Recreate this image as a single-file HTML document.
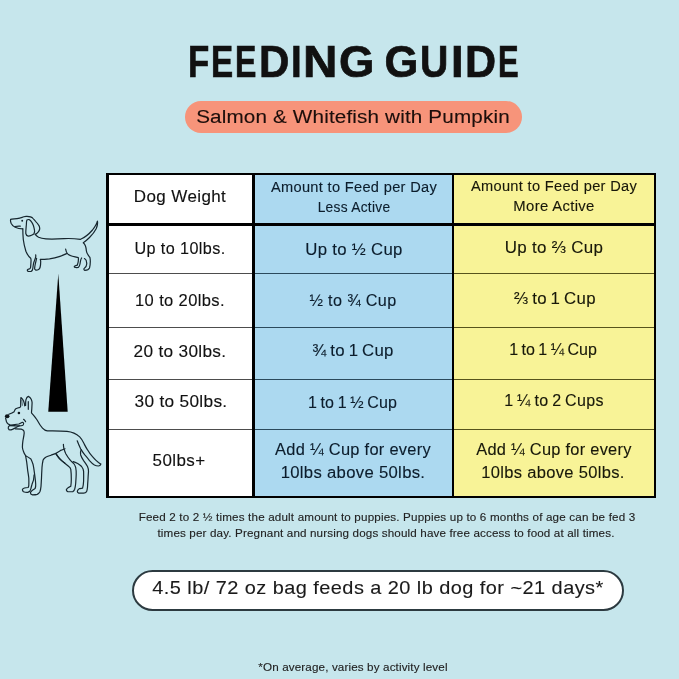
<!DOCTYPE html>
<html>
<head>
<meta charset="utf-8">
<style>
html,body{margin:0;padding:0;}
body{width:679px;height:679px;overflow:hidden;background:#c6e6ec;position:relative;font-family:"Liberation Sans",sans-serif;}
.t{position:absolute;text-align:center;white-space:nowrap;-webkit-text-stroke:0.12px currentColor;}
.r{position:absolute;}
svg{position:absolute;left:0;top:0;}
#title span{position:absolute;top:36.5px;font-size:43.5px;font-weight:700;line-height:50px;color:#111;-webkit-text-stroke:0.7px #111;transform-origin:0 0;white-space:pre;}
</style>
</head>
<body>
<div class="r" style="left:184.5px;top:100.5px;width:337.20px;height:32.00px;background:#f7947a;border-radius:16px;"></div>
<div class="r" style="left:106px;top:173px;width:550.00px;height:325.00px;background:#000;"></div>
<div class="r" style="left:108.5px;top:175px;width:143.50px;height:321.00px;background:#ffffff;"></div>
<div class="r" style="left:108.5px;top:223px;width:143.50px;height:2.50px;background:#000;"></div>
<div class="r" style="left:108.5px;top:273px;width:143.50px;height:1.20px;background:#4d4d4d;"></div>
<div class="r" style="left:108.5px;top:326.8px;width:143.50px;height:1.20px;background:#4d4d4d;"></div>
<div class="r" style="left:108.5px;top:378.7px;width:143.50px;height:1.20px;background:#4d4d4d;"></div>
<div class="r" style="left:108.5px;top:428.7px;width:143.50px;height:1.20px;background:#4d4d4d;"></div>
<div class="r" style="left:254.5px;top:175px;width:197.00px;height:321.00px;background:#acd9f0;"></div>
<div class="r" style="left:254.5px;top:223px;width:197.00px;height:2.50px;background:#000;"></div>
<div class="r" style="left:254.5px;top:273px;width:197.00px;height:1.20px;background:#2b4a5c;"></div>
<div class="r" style="left:254.5px;top:326.8px;width:197.00px;height:1.20px;background:#2b4a5c;"></div>
<div class="r" style="left:254.5px;top:378.7px;width:197.00px;height:1.20px;background:#2b4a5c;"></div>
<div class="r" style="left:254.5px;top:428.7px;width:197.00px;height:1.20px;background:#2b4a5c;"></div>
<div class="r" style="left:454px;top:175px;width:200.00px;height:321.00px;background:#f8f397;"></div>
<div class="r" style="left:454px;top:223px;width:200.00px;height:2.50px;background:#000;"></div>
<div class="r" style="left:454px;top:273px;width:200.00px;height:1.20px;background:#57531c;"></div>
<div class="r" style="left:454px;top:326.8px;width:200.00px;height:1.20px;background:#57531c;"></div>
<div class="r" style="left:454px;top:378.7px;width:200.00px;height:1.20px;background:#57531c;"></div>
<div class="r" style="left:454px;top:428.7px;width:200.00px;height:1.20px;background:#57531c;"></div>
<div class="r" style="left:131.8px;top:570px;width:492.40px;height:40.50px;background:#fff;border:2.4px solid #2c3a40;border-radius:21px;box-sizing:border-box;"></div>
<div id="title"><span style="left:187.80px;transform:scaleX(0.8)">F</span><span style="left:210.71px;transform:scaleX(0.764)">E</span><span style="left:235.09px;transform:scaleX(0.736)">E</span><span style="left:258.60px;transform:scaleX(0.967)">D</span><span style="left:290.64px;transform:scaleX(0.886)">I</span><span style="left:302.71px;transform:scaleX(1.096)">N</span><span style="left:338.75px;transform:scaleX(1.045)">G</span><span style="left:376px"> </span><span style="left:384.50px;transform:scaleX(1.0)">G</span><span style="left:420.30px;transform:scaleX(0.9)">U</span><span style="left:450.57px;transform:scaleX(1.043)">I</span><span style="left:464.53px;transform:scaleX(0.989)">D</span><span style="left:497.76px;transform:scaleX(0.712)">E</span></div>
<div class="t" style="left:153.09px;top:107.49px;width:400px;font-size:18.8px;line-height:20px;color:#1c0e0b;letter-spacing:0.140px;font-weight:400;transform:scaleX(1.100);">Salmon &amp; Whitefish with Pumpkin</div>
<div class="t" style="left:109.75px;top:187.48px;width:140px;font-size:16px;line-height:20px;color:#111;letter-spacing:0.369px;font-weight:400;transform:scaleX(1.062);">Dog Weight</div>
<div class="t" style="left:256.15px;top:177.09px;width:196px;font-size:14px;line-height:20px;color:#0c1d2c;letter-spacing:0.307px;font-weight:400;transform:scaleX(1.043);">Amount to Feed per Day</div>
<div class="t" style="left:255.62px;top:197.12px;width:196px;font-size:14px;line-height:20px;color:#0c1d2c;letter-spacing:0.299px;font-weight:400;transform:scaleX(0.981);">Less Active</div>
<div class="t" style="left:455.15px;top:176.17px;width:198px;font-size:14px;line-height:20px;color:#18180a;letter-spacing:0.307px;font-weight:400;transform:scaleX(1.043);">Amount to Feed per Day</div>
<div class="t" style="left:454.59px;top:196.20px;width:198px;font-size:14px;line-height:20px;color:#18180a;letter-spacing:0.322px;font-weight:400;transform:scaleX(1.060);">More Active</div>
<div class="t" style="left:109.76px;top:239.42px;width:140px;font-size:16px;line-height:20px;color:#111;letter-spacing:0.384px;font-weight:400;transform:scaleX(1.012);">Up to 10lbs.</div>
<div class="t" style="left:110.24px;top:290.54px;width:140px;font-size:16px;line-height:20px;color:#111;letter-spacing:0.370px;font-weight:400;transform:scaleX(1.031);">10 to 20lbs.</div>
<div class="t" style="left:110.44px;top:341.53px;width:140px;font-size:16px;line-height:20px;color:#111;letter-spacing:0.289px;font-weight:400;transform:scaleX(1.076);">20 to 30lbs.</div>
<div class="t" style="left:110.66px;top:392.47px;width:140px;font-size:16px;line-height:20px;color:#111;letter-spacing:0.285px;font-weight:400;transform:scaleX(1.078);">30 to 50lbs.</div>
<div class="t" style="left:109.30px;top:451.48px;width:140px;font-size:16px;line-height:20px;color:#111;letter-spacing:0.380px;font-weight:400;transform:scaleX(1.060);">50lbs+</div>
<div class="t" style="left:255.55px;top:239.51px;width:196px;font-size:16px;line-height:20px;color:#0c1d2c;letter-spacing:0.303px;font-weight:400;transform:scaleX(1.047);">Up to ½ Cup</div>
<div class="t" style="left:255.23px;top:290.51px;width:196px;font-size:16px;line-height:20px;color:#0c1d2c;letter-spacing:0.342px;font-weight:400;transform:scaleX(1.011);">½ to ¾ Cup</div>
<div class="t" style="left:254.72px;top:341.48px;width:196px;font-size:16px;line-height:20px;color:#0c1d2c;letter-spacing:0.300px;font-weight:400;word-spacing:-1.2px;transform:scaleX(1.050);">¾ to 1 Cup</div>
<div class="t" style="left:254.56px;top:393.36px;width:196px;font-size:16px;line-height:20px;color:#0c1d2c;letter-spacing:0.198px;font-weight:400;word-spacing:-1.2px;">1 to 1 ½ Cup</div>
<div class="t" style="left:255.18px;top:440.36px;width:196px;font-size:16px;line-height:20px;color:#0c1d2c;letter-spacing:0.279px;font-weight:400;transform:scaleX(1.025);">Add ¼ Cup for every</div>
<div class="t" style="left:254.63px;top:462.54px;width:196px;font-size:16px;line-height:20px;color:#0c1d2c;letter-spacing:0.298px;font-weight:400;transform:scaleX(1.042);">10lbs above 50lbs.</div>
<div class="t" style="left:454.60px;top:238.48px;width:198px;font-size:16px;line-height:20px;color:#18180a;letter-spacing:0.313px;font-weight:400;transform:scaleX(1.058);">Up to ⅔ Cup</div>
<div class="t" style="left:455.57px;top:288.53px;width:198px;font-size:16px;line-height:20px;color:#18180a;letter-spacing:0.327px;font-weight:400;word-spacing:-1.2px;transform:scaleX(1.050);">⅔ to 1 Cup</div>
<div class="t" style="left:454.13px;top:339.53px;width:198px;font-size:16px;line-height:20px;color:#18180a;letter-spacing:0.089px;font-weight:400;word-spacing:-1.2px;">1 to 1 ¼ Cup</div>
<div class="t" style="left:455.08px;top:391.39px;width:198px;font-size:16px;line-height:20px;color:#18180a;letter-spacing:0.373px;font-weight:400;word-spacing:-1.2px;">1 ¼ to 2 Cups</div>
<div class="t" style="left:454.67px;top:440.36px;width:198px;font-size:16px;line-height:20px;color:#18180a;letter-spacing:0.271px;font-weight:400;transform:scaleX(1.023);">Add ¼ Cup for every</div>
<div class="t" style="left:453.68px;top:462.54px;width:198px;font-size:16px;line-height:20px;color:#18180a;letter-spacing:0.304px;font-weight:400;transform:scaleX(1.032);">10lbs above 50lbs.</div>
<div class="t" style="left:86.59px;top:507.25px;width:600px;font-size:11px;line-height:20px;color:#222;letter-spacing:0.150px;font-weight:400;transform:scaleX(1.060);">Feed 2 to 2 ½ times the adult amount to puppies. Puppies up to 6 months of age can be fed 3</div>
<div class="t" style="left:86.04px;top:523.13px;width:600px;font-size:11px;line-height:20px;color:#222;letter-spacing:0.125px;font-weight:400;transform:scaleX(1.060);">times per day. Pregnant and nursing dogs should have free access to food at all times.</div>
<div class="t" style="left:97.76px;top:578.44px;width:560px;font-size:19px;line-height:20px;color:#1a1a1a;letter-spacing:0.420px;font-weight:400;transform:scaleX(1.050);">4.5 lb/ 72 oz bag feeds a 20 lb dog for ~21 days*</div>
<div class="t" style="left:203.06px;top:657.30px;width:300px;font-size:11px;line-height:20px;color:#222;letter-spacing:0.116px;font-weight:400;transform:scaleX(1.060);">*On average, varies by activity level</div>
<svg width="110" height="679" viewBox="0 0 110 679">
<polygon points="58.3,273.8 67.7,411.8 48.25,411.8" fill="#000"/>
<g fill="none" stroke="#16262e" stroke-width="1.2" stroke-linecap="round" stroke-linejoin="round">
<path d="M22.8,228.8 C20,228.8 17.5,228.3 15.2,227.2 C13.5,226.3 12,225 11.2,223.4 C10.6,222 10.4,220.5 10.6,219.4 C12,219 14.5,219 17,218.7 C19,218.5 20.5,218.2 21.5,217.6 C23,216.9 24.5,216.5 26.1,216.4 C28,216.3 29.5,216.5 30.5,216.9 C31.3,217.2 32,217.5 32.4,217.8 C33.5,218.9 34.5,220.2 35.5,221.3 C36.5,222.3 37.4,223.3 38.3,224.6 C39.1,225.7 39.6,226.7 39.7,228 C39.8,229.1 39.5,230 39,230.9 C38.5,231.8 37.8,232.6 37,233.2 C36.4,233.7 35.7,234.1 35.1,234.4 C36,235.4 37.2,236.5 38.6,237.3 C40.5,238.2 43,238.7 46,238.9 C52,239.2 58,239 64,238.6 C70,238.3 76,238.7 80.6,239.3 C85,237.5 89,234 92.5,230 C95,226.8 96.8,224 97.4,221.2 C97.8,223 97.3,226 96.3,228.5 C94.8,231.5 92.5,234.5 89.5,237.5 C87.5,239.5 85.5,241.2 83.3,242.8 C85.2,244.5 86.2,247.5 86.4,251 C86.6,254 88.6,255.4 89.9,257.4 C90.6,260.5 90.3,264.5 89.5,268 C88.8,269.6 87,270.2 84.8,270.3 C83.6,270 83.6,268.6 84.6,268 C85.7,267.4 86.5,266.4 86.7,264 C86.9,261.5 86,259.5 84.5,258.6"/>
<path d="M26.4,224.3 C26.1,228 25.6,231.5 25.8,233.5 C26.2,235.3 27,236 28.2,236.1 C29.5,236.1 30.5,235.8 31.5,235.3 C32.7,234.8 33.5,234.3 34,233.6 C34.6,232.5 34.8,231.5 34.5,230.2 C34.2,228.5 33.8,226.8 33.3,225.3 C32.8,224 32.2,222.8 31.5,221.9 C30.9,220.8 30.1,219.9 29.2,219.6 C28.4,219.4 27.6,219.5 26.9,220 C26.5,220.8 26.4,222 26.4,224.3"/>
<path d="M22.8,228.8 C22.8,232 23,236 23.3,239.5 C23.8,243.5 24.7,247.5 25.9,251.3 C27,254 28.6,256.5 30.7,258.3 C31.1,259 31.1,260 31,261.5 C30.9,263.5 30.8,265.5 30.6,267.3 C30.4,268.2 30,268.7 29.4,268.9 C28.6,269 27.8,269.3 27.4,269.9 C27.2,270.6 27.6,271.2 28.4,271.4 C29.3,271.5 30.3,271.5 31.1,271.4 C31.8,271.1 32.2,270.6 32.4,270 C32.8,268.9 33,267.5 33.2,265.5 C33.4,263.8 33.7,262.4 34.3,261 C34.9,259.5 35.4,258.2 35.7,257 C35.8,256.2 35.8,255.5 35.7,254.9"/>
<path d="M36.6,258.4 C36,261 35.3,263.5 35,265.5 C34.8,266.8 34.7,267.8 34.6,268.6 C34.6,269.3 35,269.9 35.8,270.1 C36.8,270.2 37.7,270 38.6,269.5 C39.5,269 39.9,268.2 40.2,267 C40.6,265 40.7,263 40.7,261.4 C40.6,260.5 40.5,259.8 40.3,259.4 C43,259.3 46,259.1 49.5,258.8 C53.5,258.3 57,257.4 60,256.4 C62.3,255.6 64.5,254.6 66.5,253.6"/>
<path d="M65.6,249 C65.8,251 66.5,253 68.3,254.6 C71,256.2 74.5,257 78.3,257.6 C78.6,260 78.2,263 77.3,265.2 C76,265.6 74.5,265.8 74.2,266.6 C74.3,267.6 76.5,267.7 78.3,267.4 C79.5,266.8 80.1,264 80.5,261 C80.8,259.5 81.2,258.5 81.6,258"/>
<circle cx="22.2" cy="220.8" r="0.95" fill="#16262e" stroke="none"/>
<path d="M15,226.5 C16.8,226.1 18.5,225.9 20.3,226.1"/>
<!-- great dane -->
<ellipse cx="7.2" cy="416.2" rx="2.3" ry="2" fill="#0d151a" stroke="none"/>
<path d="M8.8,414.3 C10.5,413.7 12.5,413 14.1,411.7 C14.6,410.5 15,409.4 15.8,408.8 C17,408.1 18.5,407.6 20,407.3 C20.5,407 20.7,406.5 20.7,405.8 C20.6,403 20.6,400 20.9,397.5 C22,398.4 23,399.6 23.6,401 C24.2,402.5 24.6,404 24.7,405.8"/>
<path d="M21.8,400.2 C22,402 22.3,403.8 22.5,405.3" stroke-width="0.6"/>
<path d="M25.6,405.5 C25.6,403.5 25.6,401.3 25.9,399.9 C26.4,398 27.3,396.8 28.3,396.4 C29.6,396.9 30.6,398 31.2,399.3 C31.8,400.6 32.1,401.8 32.1,402.8 C32,404.8 31.9,406.8 31.8,408.7 C31.7,410.2 31.5,411.6 31.5,412.9 C32.8,414.4 34.2,415.9 35.4,417.6 C36,418.5 36.6,419.2 37.1,420 C39,423.5 40.5,426 42.5,428.2 C44,430 45.5,430.8 47.5,430.9 C53,430.9 60,430.7 67,431.4 C72,431.9 76,433.5 79.7,436.9 C81.5,438.8 82.6,440.8 83.6,442.8 C85,445.5 86,447.8 87.5,449.8 C89,452.5 90.5,454.5 92.5,456.6 C94.5,459 96.5,461 98.5,462.5 C99.5,463.2 100.3,463.7 100.9,464 C100.5,465.3 99.5,466 98.4,466 C97,466 95.5,465.6 94.4,465 C92.5,463.8 91,462.3 89.5,460.6 C88,458.6 86.5,456.8 84.6,454.7 C83,452.6 81.8,450.6 80.6,448.7 C79.3,446 78.2,443.5 77.2,440.8"/>
<path d="M28.3,401.7 C28.3,404 28.3,406.8 28.3,409.3"/>
<path d="M5.6,418.2 C5.9,419.5 6.2,420.8 6.5,421.7 C7,422.8 7.5,423.5 8.25,424.1 C9,424.6 9.8,424.9 10.6,425 C12,424.9 13.4,424.8 14.7,424.6 C16.2,424.4 17.6,424.2 18.9,424 C20,423.5 21.3,422.9 22.4,422.3 C23.3,422.6 23.8,423 23.6,423.5 C23.5,424.3 23.3,424.9 23,425.2 C21.8,425.6 20.6,425.8 19.4,425.8 C17,425.8 13,425.7 9.6,425.6"/>
<path d="M9.6,425.6 C8.6,426.3 8.1,427.3 8.25,428.2 C8.7,429.4 9.3,430 10,430 C10.8,429.9 11.6,429.7 12.4,429.4 C13.6,428.8 14.8,428.2 15.9,427.6 C17.2,426.8 18.3,426.2 19.4,425.8"/>
<path d="M15.3,428.8 C17.3,428.8 19.3,428.9 21.2,429.1 C22.3,429.4 23.1,429.9 23.6,430.5 C24,431.3 24.2,432.1 24.2,432.9 C24,435.5 23.4,438.2 22.9,440.9 C22.6,443 22.4,445 22.4,447.2 C22.5,448.6 22.9,450 23.5,451.5 C24,453 24.7,454.4 25.6,455.7 C27.2,456.5 29,457.6 30.9,458.9 C31.7,460.5 32.4,462.3 33,464.2 C33.5,466.3 33.8,468.5 34.1,470.6 C34.5,473 34.8,475.5 35.1,478 C35.4,480 35.6,482 35.7,484.3 C35.8,485.6 35.7,487 35.1,488.6 C34.2,489.2 33,489.9 31.9,490.7 C31.3,491.2 30.8,491.8 30.4,492.8 C30.4,493.8 31.2,494.6 32.5,494.9 C34,494.9 35.6,494.9 37.2,494.4 C38.2,494 39.1,493 39.9,491.7 C40.5,490.3 40.8,488.5 41,486.4 C41.2,483.8 41.3,481 41.5,478 C41.6,474.5 41.8,471 42,467.4 C42.2,465 42.5,462.5 43.1,460 C43.7,458.9 44.6,458 45.7,457.3 C47.4,456.5 49.2,455.9 51,455.2 C52.8,454.5 54.5,453.9 56.3,453.1 C57.6,452.3 59,451.3 60.6,450.4 C62,449.8 63.6,449.3 65,448.8"/>
<path d="M23.6,419.3 C24.4,420 25.1,420.8 25.6,421.7"/>
<circle cx="18.9" cy="413" r="1.3" fill="#0d151a" stroke="none"/>
<path d="M81.1,449.7 C80.4,451.5 80.3,453.3 80.6,454.7 C81.4,457 82.5,459 83.6,460.6 C85,462.5 86.4,464.5 87.5,466.5 C88.3,468.3 88.6,470 88.5,471.4 C88.3,474 88.1,476.5 88,479.3 C87.8,482 87.6,484.6 87.5,487.2 C87.3,489 87,490.6 86.6,491.6 C85.8,492.6 84.8,493 83.6,493.1 C82,493.2 80.3,493.2 78.7,493.1 C77.8,492.8 77.3,492 77.3,491.2 C77.8,489.8 78.4,489 79.2,488.7 C80.4,488.4 81.6,488.4 82.6,488.2 C83.2,486 83.5,483.5 83.6,481.3 C83.7,478 83.7,474.6 83.6,471.4 C83.4,469.5 82.8,468 81.6,466.5 C80.4,465.3 79,464.3 77.7,463.5 C76.2,462.7 74.7,462 73.2,461.6"/>
<path d="M63.4,444.3 C63.4,445.8 63.6,447.3 63.9,448.7 C64.5,450.5 65,452.2 65.8,453.7 C67,455.8 68.3,457.8 69.8,459.6 C71,461 72.4,462.3 73.7,463.5 C74.7,464.8 75.3,466 75.7,467.5 C76.1,469.6 76.3,472 76.2,474.4 C76.1,477.5 75.9,480.5 75.7,483.3 C75.5,485.5 75.2,487.5 74.7,489.2 C74.2,490.5 73.6,491.3 72.8,491.6 C71,491.8 69.3,491.8 67.8,491.6 C66.8,491.2 66.3,490.5 66.3,489.7 C66.9,488.5 67.8,487.8 68.8,487.2 C69.6,486.8 70.3,486.6 70.8,486.2 C71.1,484 71.3,481.5 71.3,479.3 C71.3,476 71.2,472.5 70.8,469.4 C70.4,468 69.7,467.1 68.8,466.5 C67.2,465.2 65.5,463.8 63.9,462.5 C62.1,461 60.4,459.3 58.9,457.6 C57.8,456.4 56.8,455 56,453.6"/>
<path d="M25.6,455.7 C26,458 26.4,460 26.7,462.1 C27.1,465 27.4,467.8 27.7,470.6 C28.1,473 28.5,475.5 28.8,478 C28.9,480.5 28.9,483 28.8,485.4 C28.7,486.2 28.5,487 28.2,487.5 C27,487.6 25.7,487.7 24.5,488 C23.4,488.4 22.6,489 22.4,489.6 C22.5,490.6 22.9,491.3 23.5,491.7 C24.9,492.2 26.3,492.4 27.7,492.3 C28.5,492.1 29.2,491.7 29.8,491.2 C30.2,490.4 30.6,489.5 30.9,488.6 C31.2,487.2 31.6,485.8 32,484.3 C32.5,482.9 33,481.5 33.5,480.1 C33.8,478.3 34,476.5 34.1,474.8"/>
<path d="M55.8,453.6 C57,455.4 58.2,457.2 59.5,458.9 C61.2,460.5 63,461.9 64.8,463.1"/>
</g>
</svg>

</body>
</html>
